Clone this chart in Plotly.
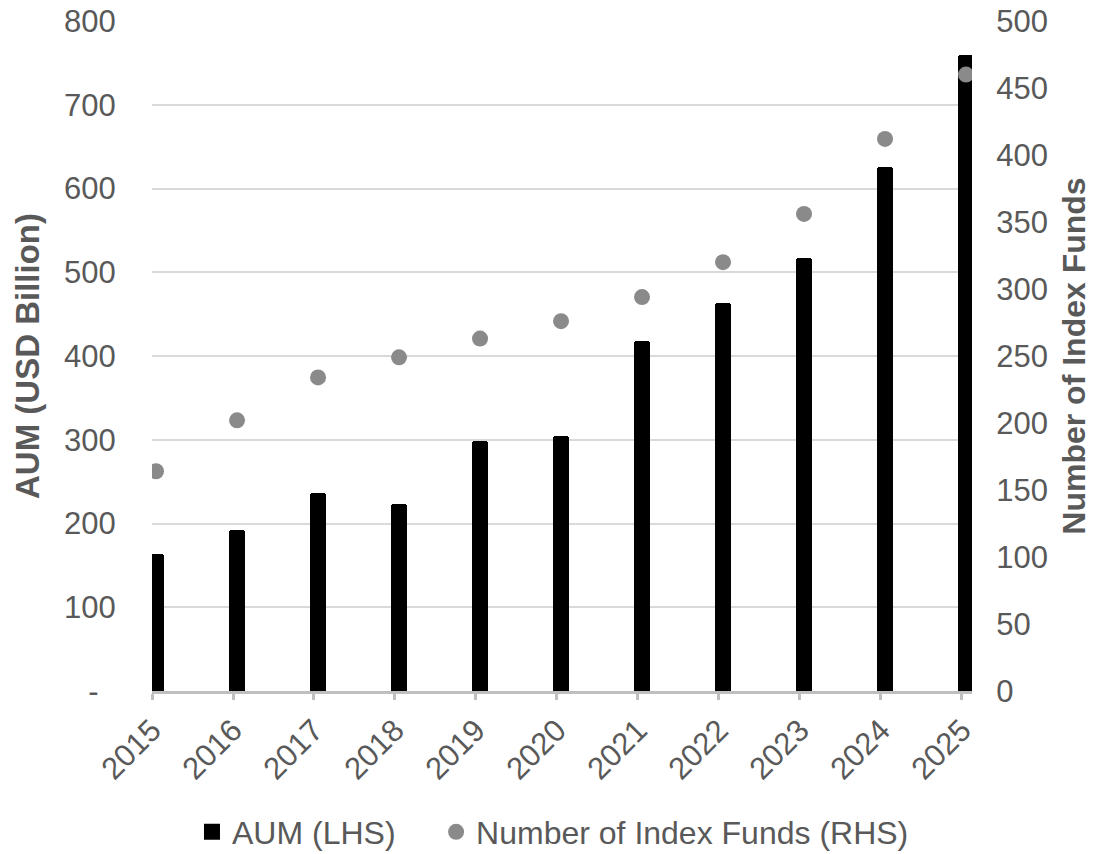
import plotly.graph_objects as go

years = [2015, 2016, 2017, 2018, 2019, 2020, 2021, 2022, 2023, 2024, 2025]
aum_usd_bn = [164, 192, 237, 223, 299, 304, 418, 463, 517, 626, 760]
num_index_funds = [164, 202, 234, 249, 263, 276, 294, 320, 356, 412, 460]

left_ticks = [0, 100, 200, 300, 400, 500, 600, 700, 800]
left_ticktext = ["-\u00a0\u00a0", "100", "200", "300", "400", "500", "600", "700", "800"]
right_ticks = [0, 50, 100, 150, 200, 250, 300, 350, 400, 450, 500]

GRAY_TXT = "#595959"
FONT = "Liberation Sans, Arial, sans-serif"

fig = go.Figure()
fig.add_trace(go.Bar(
    x=years, y=aum_usd_bn, name="AUM (LHS)",
    width=0.195, showlegend=False,
    marker=dict(color="#000000", cornerradius=3, line=dict(width=0)),
    yaxis="y",
))
# legend entry for the bars (larger square key, like the reference)
fig.add_trace(go.Scatter(
    x=[None], y=[None], name="AUM (LHS)\u00a0\u00a0\u00a0\u00a0", mode="markers",
    marker=dict(color="#000000", symbol="square", size=18, line=dict(width=0)),
    yaxis="y",
))
fig.add_trace(go.Scatter(
    x=years, y=num_index_funds, name="Number of Index Funds (RHS)",
    mode="markers",
    marker=dict(color="#8a8a8a", size=16, line=dict(width=0)),
    yaxis="y2",
))

fig.update_layout(
    width=1094, height=854,
    margin=dict(l=152, r=122, t=21, b=163, autoexpand=False),
    plot_bgcolor="white", paper_bgcolor="white",
    font=dict(family=FONT, color=GRAY_TXT, size=31),
    showlegend=True,
    legend=dict(orientation="h", x=0.489, xanchor="center",
                yref="container", y=1 - 832 / 854, yanchor="middle",
                font=dict(size=32, color=GRAY_TXT), itemsizing="trace"),
    xaxis=dict(
        range=[2014.95, 2025.074],
        tickvals=[y - 0.05 for y in years], ticktext=[str(y) for y in years],
        tickangle=-45, tickfont=dict(size=31, color=GRAY_TXT),
        showgrid=False, zeroline=False, automargin=False,
        showline=True, linecolor="#bfbfbf", linewidth=2.5,
        ticks="outside", ticklen=6, tickwidth=2.5, tickcolor="#bfbfbf",
    ),
    yaxis=dict(
        range=[0, 800], tickvals=left_ticks, ticktext=left_ticktext,
        tickfont=dict(size=31, color=GRAY_TXT),
        showgrid=True, gridcolor="#d9d9d9", gridwidth=1.5,
        zeroline=False, showline=False, automargin=False,
        ticks="outside", ticklen=29, tickcolor="rgba(0,0,0,0)",
        title=dict(text="<b>AUM (USD Billion)</b>", font=dict(size=33, color=GRAY_TXT), standoff=14),
    ),
    yaxis2=dict(
        range=[0, 500], tickvals=right_ticks,
        overlaying="y", side="right",
        tickfont=dict(size=31, color=GRAY_TXT),
        showgrid=False, zeroline=False, showline=False, automargin=False,
        ticks="outside", ticklen=17, tickcolor="rgba(0,0,0,0)",
        title=dict(text="<b>Number of Index Funds</b>", font=dict(size=32, color=GRAY_TXT), standoff=15),
    ),
    bargap=0,
)

fig.write_html(
    "out.html",
    config={"displayModeBar": False},
    post_script="document.body.style.margin='0';document.body.style.overflow='hidden';",
)
